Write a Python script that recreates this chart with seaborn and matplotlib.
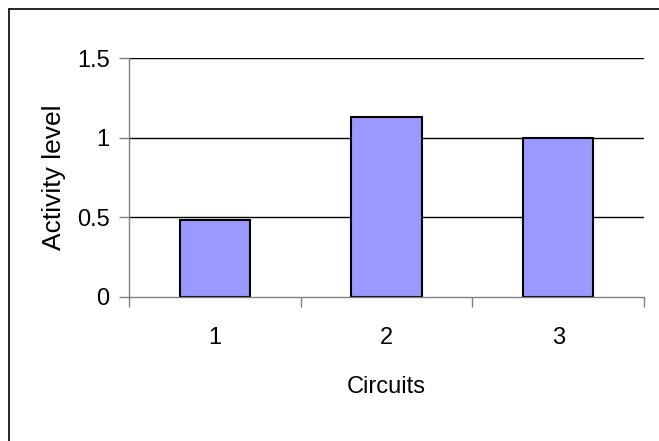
import matplotlib
matplotlib.use("Agg")
import matplotlib.pyplot as plt
from matplotlib.lines import Line2D
import seaborn as sns
import pandas as pd

circuits = ["1", "2", "3"]
activity = [0.48, 1.13, 1.0]
y_ticks = [0, 0.5, 1, 1.5]
y_tick_labels = ["0", "0.5", "1", "1.5"]

sns.set_theme(style="white")
plt.rcParams["font.family"] = ["Liberation Sans", "DejaVu Sans"]

W, H = 659, 441
fig = plt.figure(figsize=(W / 100, H / 100), dpi=100)
ax = fig.add_axes([129 / W, 1 - 296.7 / H, (644 - 129) / W, (296.7 - 58.3) / H])

df = pd.DataFrame({"Circuits": circuits, "Activity level": activity})
sns.barplot(data=df, x="Circuits", y="Activity level", ax=ax,
            color="#9999FF", saturation=1, edgecolor="black",
            linewidth=1.5, width=0.41, zorder=3)

ax.set_xlim(-0.5, 2.5)
ax.set_ylim(0, 1.5)
ax.set_yticks(y_ticks)
ax.set_yticklabels(y_tick_labels)

# horizontal gridlines
ax.grid(False)
for v in y_ticks[1:]:
    ax.axhline(v, color="black", lw=1.0, zorder=1)

# category separators as minor ticks on x
ax.set_xticks([-0.5, 0.5, 1.5, 2.5], minor=True)
ax.tick_params(axis="x", which="major", length=0, pad=21.5, labelsize=17, colors="black")
ax.tick_params(axis="x", which="minor", length=7, width=1, color="#808080", direction="out", bottom=True)
ax.tick_params(axis="y", which="major", length=7, width=1, color="#808080", direction="out",
               left=True, pad=7, labelsize=17, labelcolor="black")

for s in ["top", "right"]:
    ax.spines[s].set_visible(False)
for s in ["left", "bottom"]:
    ax.spines[s].set_color("#808080")
    ax.spines[s].set_linewidth(1.0)
    ax.spines[s].set_zorder(4)

ax.set_xlabel("Circuits", fontsize=17, labelpad=20, color="black")
ax.set_ylabel("Activity level", fontsize=19, labelpad=8, color="black")

# chart-area frame (top and left edges)
fig.add_artist(Line2D([8.5 / W, 8.5 / W], [0, 1 - 9 / H], transform=fig.transFigure,
                      color="black", lw=1.2))
fig.add_artist(Line2D([8.5 / W, 1], [1 - 9 / H, 1 - 9 / H], transform=fig.transFigure,
                      color="black", lw=1.2))

fig.savefig("out.png", dpi=100)
